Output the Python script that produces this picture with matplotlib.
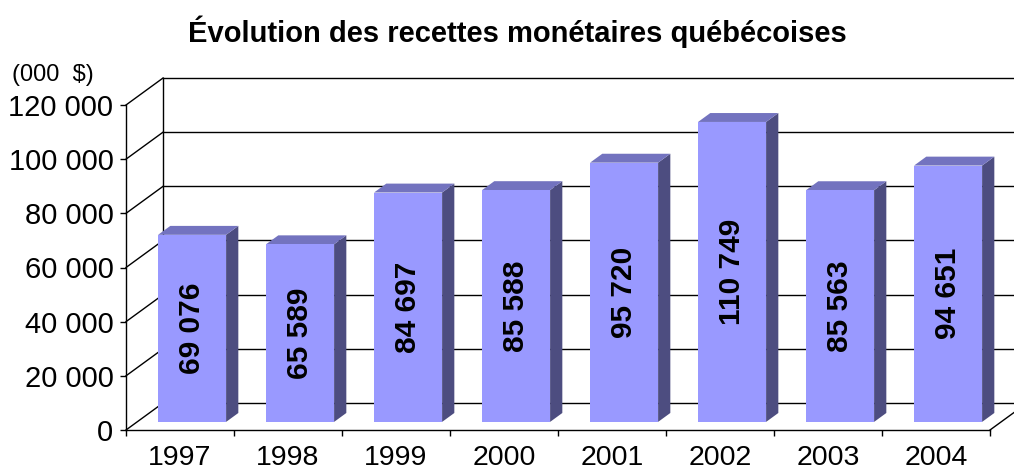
import matplotlib
matplotlib.use("Agg")
import matplotlib.pyplot as plt
from matplotlib.patches import Polygon

plt.rcParams['font.family'] = ['Liberation Sans', 'DejaVu Sans']

years = ["1997", "1998", "1999", "2000", "2001", "2002", "2003", "2004"]
recettes = [69076, 65589, 84697, 85588, 95720, 110749, 85563, 94651]
yticks = [0, 20000, 40000, 60000, 80000, 100000, 120000]

# fake 3D: depth offset in data units
DX = 0.343
DY = 9970
FRONT = 0.30
BACK = 0.63
BAR_LEFT = 0.194
BAR_W = 0.63

c_front = "#9999ff"
c_side = "#4d4d80"
c_top = "#7373bf"

def proj(x, y, d):
    return (x + d * DX, y + d * DY)

fig = plt.figure(figsize=(10.14, 4.72), dpi=100)
ax = fig.add_axes([126 / 1014, 42 / 472, 864 / 1014, 325 / 472])
ax.set_xlim(0, 8)
ax.set_ylim(0, 120000)
ax.patch.set_visible(False)
for s in ["top", "right"]:
    ax.spines[s].set_visible(False)
for s in ["left", "bottom"]:
    ax.spines[s].set_linewidth(1.0)

# back wall, left wall, floor
n = len(years)
for v in yticks:
    bx0, by0 = proj(0, v, 1)
    bx1, by1 = proj(n, v, 1)
    ax.plot([bx0, bx1], [by0, by1], color="black", lw=1.0, clip_on=False, zorder=1)
    ax.plot([0, bx0], [v, by0], color="black", lw=1.0, clip_on=False, zorder=1)
x0, y0 = proj(0, 0, 1)
x1, y1 = proj(0, yticks[-1], 1)
ax.plot([x0, x1], [y0, y1], color="black", lw=1.0, clip_on=False, zorder=1)
xr, yr = proj(n, 0, 1)
ax.plot([n, xr], [0, yr], color="black", lw=1.0, clip_on=False, zorder=1)

# bars
for i, v in enumerate(recettes):
    xl = i + BAR_LEFT
    xr_ = xl + BAR_W
    front = [proj(xl, 0, FRONT), proj(xr_, 0, FRONT), proj(xr_, v, FRONT), proj(xl, v, FRONT)]
    side = [proj(xr_, 0, FRONT), proj(xr_, 0, BACK), proj(xr_, v, BACK), proj(xr_, v, FRONT)]
    top = [proj(xl, v, FRONT), proj(xr_, v, FRONT), proj(xr_, v, BACK), proj(xl, v, BACK)]
    for pts, c in [(side, c_side), (top, c_top), (front, c_front)]:
        ax.add_patch(Polygon(pts, closed=True, facecolor=c, edgecolor="none",
                             clip_on=False, zorder=3))
    cx, cy = proj(xl + BAR_W / 2, v / 2, FRONT)
    ax.text(cx, cy, f"{v:,}".replace(",", " "), rotation=90, ha="center", va="center",
            fontsize=21.5, fontweight="bold", color="black", zorder=4)

ax.set_yticks(yticks)
ax.set_yticklabels([f"{v:,}".replace(",", " ") for v in yticks], fontsize=21)
ax.tick_params(axis="y", direction="out", length=4, width=1, pad=5)

ax.set_xticks(range(n + 1))
ax.set_xticklabels([])
ax.tick_params(axis="x", which="major", direction="out", length=4, width=1)
ax.set_xticks([i + 0.5 for i in range(n)], minor=True)
ax.set_xticklabels(years, minor=True, fontsize=20.5)
ax.tick_params(axis="x", which="minor", length=0, pad=11)

fig.text(517 / 1014, 1 - 32 / 472, "Évolution des recettes monétaires québécoises",
         ha="center", va="center", fontsize=21, fontweight="bold")
fig.text(12 / 1014, 1 - 75 / 472, "(000  $)", ha="left", va="center", fontsize=17)

fig.savefig("out.png", dpi=100)
